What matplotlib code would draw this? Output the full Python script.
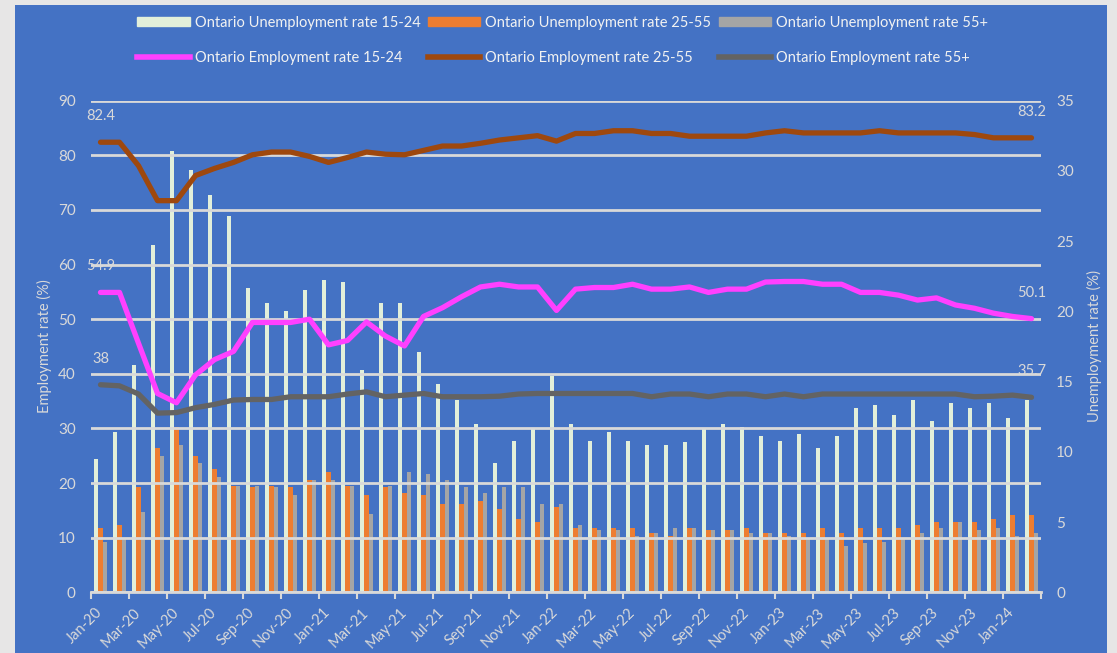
import numpy as np
import pandas as pd
import matplotlib
matplotlib.use("Agg")
import matplotlib.pyplot as plt
from matplotlib.patches import Rectangle, Patch
from matplotlib.lines import Line2D

plt.rcParams["font.family"] = ["Lato", "DejaVu Sans"]

# Monthly data, Jan 2020 - Feb 2024
months = pd.date_range("2020-01-01", periods=50, freq="MS").strftime("%b-%y").tolist()

emp_15_24 = [54.9, 54.9, 45.6, 36.4, 34.7, 39.8, 42.6, 44.1, 49.4, 49.4, 49.4, 50.0,
             45.3, 46.1, 49.5, 46.9, 45.1, 50.5, 52.1, 54.1, 55.9, 56.4, 55.9, 55.9,
             51.6, 55.5, 55.8, 55.8, 56.4, 55.5, 55.5, 55.9, 54.9, 55.5, 55.5, 56.8,
             56.9, 56.9, 56.4, 56.4, 54.9, 54.9, 54.4, 53.5, 53.9, 52.6, 52.0, 51.1,
             50.5, 50.1]
emp_25_55 = [82.4, 82.4, 78.1, 71.7, 71.7, 76.3, 77.6, 78.7, 80.1, 80.6, 80.6, 79.8,
             78.7, 79.6, 80.6, 80.2, 80.1, 80.9, 81.7, 81.7, 82.2, 82.8, 83.2, 83.6,
             82.6, 84.0, 84.0, 84.5, 84.5, 84.0, 84.0, 83.5, 83.5, 83.5, 83.5, 84.1,
             84.5, 84.1, 84.1, 84.1, 84.1, 84.5, 84.1, 84.1, 84.1, 84.1, 83.8, 83.2,
             83.2, 83.2]
emp_55 = [38.0, 37.8, 36.3, 32.8, 32.9, 33.8, 34.4, 35.2, 35.3, 35.3, 35.8, 35.8,
          35.8, 36.3, 36.7, 35.8, 36.1, 36.4, 35.8, 35.8, 35.8, 35.9, 36.3, 36.4,
          36.4, 36.4, 36.4, 36.4, 36.4, 35.8, 36.3, 36.3, 35.8, 36.3, 36.3, 35.8,
          36.3, 35.8, 36.3, 36.3, 36.3, 36.3, 36.3, 36.3, 36.3, 36.3, 35.8, 35.9,
          36.1, 35.7]

unemp_15_24 = [9.5, 11.4, 16.2, 24.7, 31.4, 30.1, 28.3, 26.8, 21.7, 20.6, 20.0, 21.5,
               22.2, 22.1, 15.8, 20.6, 20.6, 17.1, 14.8, 13.7, 12.0, 9.2, 10.8, 11.6,
               15.4, 12.0, 10.8, 11.4, 10.8, 10.5, 10.5, 10.7, 11.6, 12.0, 11.8, 11.1,
               10.8, 11.3, 10.3, 11.1, 13.1, 13.3, 12.6, 13.7, 12.2, 13.5, 13.1, 13.5,
               12.4, 13.7]
unemp_25_55 = [4.6, 4.8, 7.5, 10.3, 11.8, 9.7, 8.8, 7.6, 7.5, 7.6, 7.5, 8.0,
               8.6, 7.6, 6.9, 7.5, 7.1, 6.9, 6.3, 6.3, 6.5, 5.9, 5.2, 5.0,
               6.1, 4.6, 4.6, 4.6, 4.6, 4.2, 4.0, 4.6, 4.4, 4.4, 4.6, 4.2,
               4.2, 4.2, 4.6, 4.2, 4.6, 4.6, 4.6, 4.8, 5.0, 5.0, 5.0, 5.2,
               5.5, 5.5]
unemp_55 = [3.6, 3.8, 5.7, 9.7, 10.5, 9.2, 8.2, 7.6, 7.6, 7.5, 6.9, 8.0,
            8.0, 7.6, 5.6, 7.6, 8.6, 8.4, 8.0, 7.5, 7.1, 7.5, 7.5, 6.3,
            6.3, 4.8, 4.4, 4.4, 4.0, 4.2, 4.6, 4.6, 4.4, 4.4, 4.2, 4.2,
            4.0, 3.8, 3.8, 3.3, 3.5, 3.6, 3.8, 4.2, 4.6, 5.0, 4.4, 4.6,
            4.0, 4.2]

BG = "#4472C4"
TXT = "#D9D9D9"
GRID = "#D9D9D9"

fig = plt.figure(figsize=(11.17, 6.53), dpi=100)
fig.patch.set_facecolor("#E7E6E6")
fig.add_artist(Rectangle((15 / 1117, 0), 1092 / 1117, 648 / 653,
                         transform=fig.transFigure, facecolor=BG,
                         edgecolor="none", zorder=0))

# bars on the bottom axes (right scale), lines on the twin (left scale)
ax = fig.add_axes([91 / 1117, 60.7 / 653, 950 / 1117, 491.6 / 653])
ax2 = ax.twinx()
ax.set_facecolor("none")
ax2.patch.set_visible(False)

x = np.arange(len(months))
w = 0.23
ax.bar(x - w, unemp_15_24, w, color="#E2EFDA", zorder=2)
ax.bar(x, unemp_25_55, w, color="#ED7D31", zorder=2)
ax.bar(x + w, unemp_55, w, color="#A5A5A5", zorder=2)

line_kw = dict(linewidth=3.8, solid_capstyle="round", solid_joinstyle="round", zorder=3)
ax2.plot(x, emp_15_24, color="#FF40FF", **line_kw)
ax2.plot(x, emp_25_55, color="#9E480E", **line_kw)
ax2.plot(x, emp_55, color="#636363", **line_kw)

# first/last value labels
for series in (emp_15_24, emp_25_55, emp_55):
    for i in (0, len(series) - 1):
        ax2.annotate(f"{series[i]:g}", (x[i], series[i]), xytext=(0, 26),
                     textcoords="offset pixels", ha="center", va="center",
                     color=TXT, fontsize=10.5)

# axes ranges and ticks
ax.set_xlim(-0.5, len(months) - 0.5)
ax.set_ylim(0, 35)
ax2.set_ylim(0, 90)
ax.set_yticks(range(0, 36, 5))
ax2.set_yticks(range(0, 91, 10))

ax.yaxis.tick_right()
ax.yaxis.set_label_position("right")
ax2.yaxis.tick_left()
ax2.yaxis.set_label_position("left")

ax2.grid(axis="y", color=GRID, linewidth=2)
for gl in ax2.get_ygridlines():
    gl.set_zorder(1)

ax.set_xticks(x[::2])
ax.set_xticklabels(months[::2], rotation=45, ha="right", va="center",
                   rotation_mode="anchor")
ax.set_xticks(np.arange(-0.5, len(months), 2), minor=True)
ax.tick_params(axis="x", which="major", length=0, pad=13, colors=TXT, labelsize=10.5)
ax.tick_params(axis="x", which="minor", length=5, width=1.5, color=GRID, direction="out")
ax.tick_params(axis="y", length=0, pad=11, colors=TXT, labelsize=11)
ax2.tick_params(axis="y", length=0, pad=11, colors=TXT, labelsize=11)

for a in (ax, ax2):
    for s in a.spines.values():
        s.set_visible(False)
ax.spines["bottom"].set_visible(True)
ax.spines["bottom"].set_color(GRID)
ax.spines["bottom"].set_linewidth(2)

ax2.set_ylabel("Employment rate (%)", color=TXT, fontsize=10.5, labelpad=4)
ax.set_ylabel("Unemployment rate (%)", color=TXT, fontsize=10.5, labelpad=9)

# legend: 3 columns, unemployment on the top row
handles = [
    Patch(color="#E2EFDA"), Line2D([], [], color="#FF40FF", linewidth=4),
    Patch(color="#ED7D31"), Line2D([], [], color="#9E480E", linewidth=4),
    Patch(color="#A5A5A5"), Line2D([], [], color="#636363", linewidth=4),
]
labels = [
    "Ontario Unemployment rate 15-24", "Ontario Employment rate 15-24",
    "Ontario Unemployment rate 25-55", "Ontario Employment rate 25-55",
    "Ontario Unemployment rate 55+", "Ontario Employment rate 55+",
]
leg = fig.legend(handles, labels, ncol=3, loc="upper left",
                 bbox_to_anchor=(137 / 1117, 1 - 16 / 653),
                 frameon=False, fontsize=10.5, labelcolor="#F2F2F2",
                 handlelength=3.6, handleheight=0.6, handletextpad=0.35,
                 columnspacing=0.5, labelspacing=1.45,
                 borderpad=0, borderaxespad=0)

fig.savefig("out.png", dpi=100, facecolor=fig.get_facecolor())
